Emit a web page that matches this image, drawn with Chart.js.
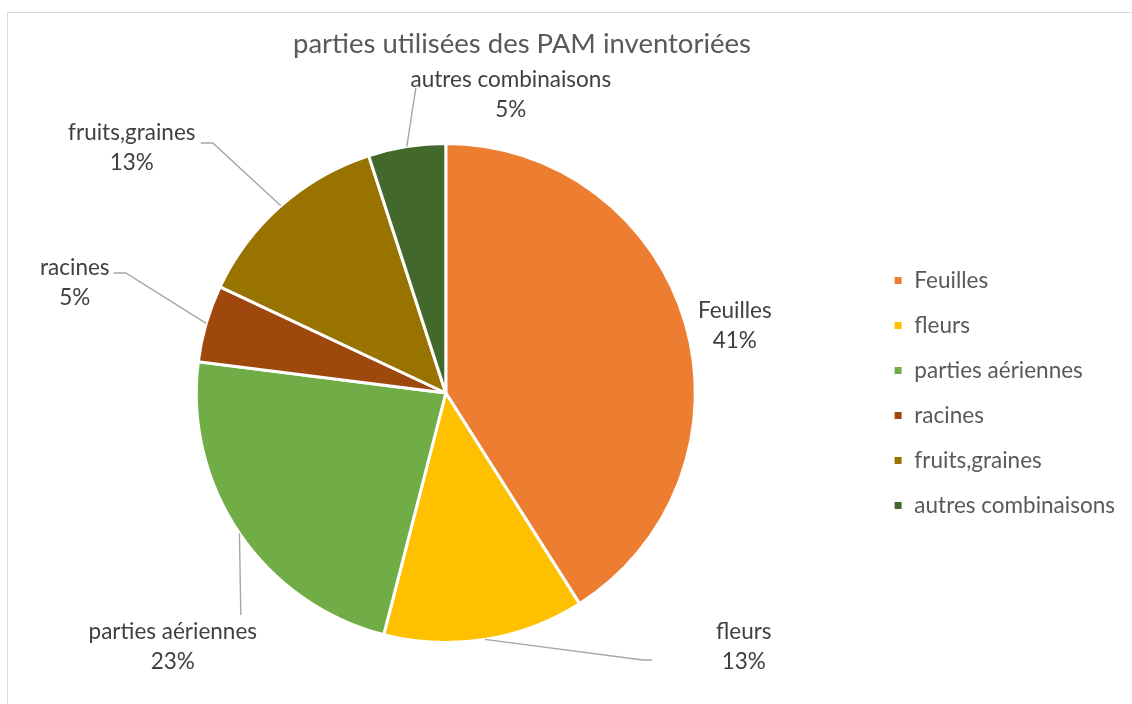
<!DOCTYPE html>
<html>
<head>
<meta charset="utf-8">
<script src="https://cdn.jsdelivr.net/npm/chart.js@4"></script>
<style>
  html, body { margin: 0; padding: 0; background: #fff; overflow: hidden; }
  #frame { position: absolute; left: 7px; top: 12px; width: 1200px; height: 800px; border: 1.5px solid #d9d9d9; }
  #wrap { position: absolute; left: 0; top: 0; width: 1132px; height: 704px; }
</style>
</head>
<body>
<div id="frame"></div>
<div id="wrap"><canvas id="pie"></canvas></div>
<script>
const chartTitle = 'parties utilisées des PAM inventoriées';
const parts = ['Feuilles', 'fleurs', 'parties aériennes', 'racines', 'fruits,graines', 'autres combinaisons'];
const shares = [41, 13, 23, 5, 13, 5];
const sliceColors = ['#ED7D31', '#FFC000', '#70AD47', '#9E480E', '#997300', '#43682B'];

// where each data label sits (px from the pie centre) and how its leader bends
const labelPlacement = [
  { at: [289, -67] },
  { at: [298, 254], elbow: [197, 267], tail: [206, 267] },
  { at: [-273, 254], elbow: [-205, 222] },
  { at: [-371, -110], elbow: [-320, -120], tail: [-332, -120] },
  { at: [-314, -245], elbow: [-233, -250], tail: [-245, -250] },
  { at: [65, -298], elbow: [-30, -305] }
];

const FONT = 'Lato, "Open Sans", sans-serif';

// labels outside the slices, with grey leader lines
const outsideLabels = {
  id: 'outsideLabels',
  afterDatasetsDraw(chart) {
    const ctx = chart.ctx;
    const arcs = chart.getDatasetMeta(0).data;
    const total = shares.reduce((a, b) => a + b, 0);
    ctx.save();
    arcs.forEach((arc, i) => {
      const { x, y, startAngle, endAngle, outerRadius } =
        arc.getProps(['x', 'y', 'startAngle', 'endAngle', 'outerRadius'], true);
      const mid = (startAngle + endAngle) / 2;
      const p = labelPlacement[i];
      if (p.elbow) {
        ctx.beginPath();
        ctx.moveTo(x + Math.cos(mid) * outerRadius, y + Math.sin(mid) * outerRadius);
        ctx.lineTo(x + p.elbow[0], y + p.elbow[1]);
        if (p.tail) ctx.lineTo(x + p.tail[0], y + p.tail[1]);
        ctx.strokeStyle = '#a6a6a6';
        ctx.lineWidth = 1.4;
        ctx.stroke();
      }
      ctx.fillStyle = '#404040';
      ctx.font = '22.5px ' + FONT;
      ctx.textAlign = 'center';
      ctx.textBaseline = 'middle';
      ctx.fillText(parts[i], x + p.at[0], y + p.at[1] - 15);
      ctx.fillText(Math.round(shares[i] / total * 100) + '%', x + p.at[0], y + p.at[1] + 15);
    });
    ctx.restore();
  }
};

// title is drawn by hand so it can sit left of the canvas centre
const titleText = {
  id: 'titleText',
  afterDraw(chart) {
    const ctx = chart.ctx;
    ctx.save();
    ctx.fillStyle = '#595959';
    ctx.font = '27.5px ' + FONT;
    ctx.textAlign = 'center';
    ctx.textBaseline = 'middle';
    ctx.fillText(chartTitle, 522, 44);
    ctx.restore();
  }
};

new Chart(document.getElementById('pie'), {
  type: 'pie',
  data: {
    labels: parts,
    datasets: [{
      data: shares,
      backgroundColor: sliceColors,
      borderColor: '#ffffff',
      borderWidth: 3,
      hoverOffset: 0
    }]
  },
  options: {
    responsive: true,
    maintainAspectRatio: false,
    animation: false,
    layout: { padding: { top: 142, bottom: 60, left: 21, right: 7 } },
    plugins: {
      tooltip: { enabled: false },
      title: { display: false },
      legend: {
        position: 'right',
        labels: {
          boxWidth: 10,
          boxHeight: 10,
          padding: 22.5,
          color: '#595959',
          font: { family: FONT, size: 22.5 }
        }
      }
    }
  },
  plugins: [outsideLabels, titleText]
});
</script>
</body>
</html>
